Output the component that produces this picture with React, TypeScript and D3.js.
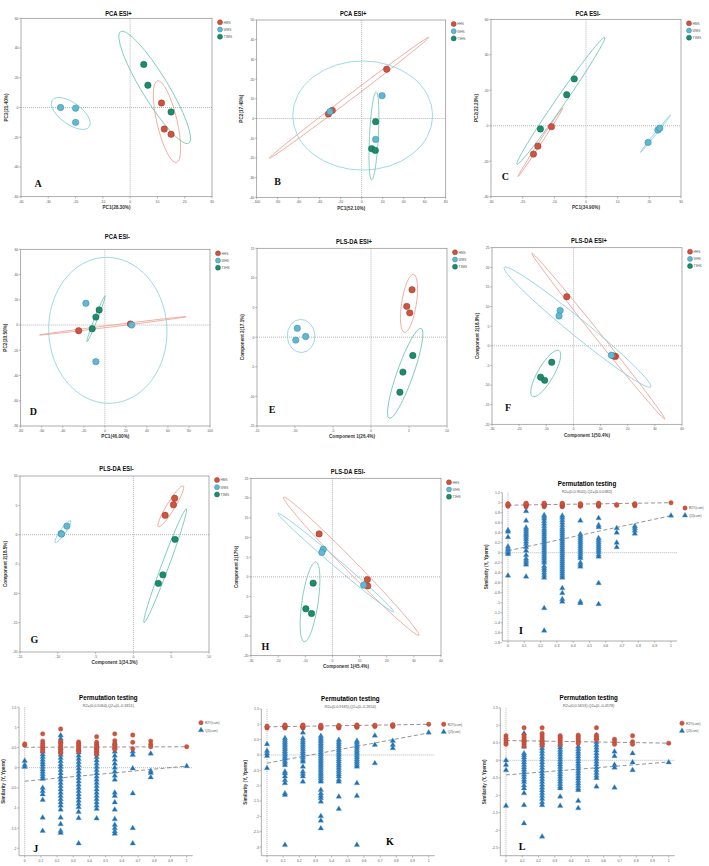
import * as d3 from "d3";

// group colours
const RED = "#cf543f", RED_EDGE = "#953626", RED_RING = "#efa194";
const BLUE = "#5fb9d4", BLUE_EDGE = "#37849c", BLUE_RING = "#86d0dc";
const GREEN = "#1c8c6d", GREEN_EDGE = "#0f5e48", GREEN_RING = "#6fc8b6";
const TRI = "#1f6fb0", TRI_EDGE = "#5d9fd2";

type Pt = [number, number];
// ellipse: major axis end points (x1, y1, x2, y2) + minor/major ratio
type Ring = [number, number, number, number, number];

// ---- A: PCA ESI+ ----
const aRed: Pt[] = [[11.5, 3], [12.5, -14.5], [15, -18]];
const aBlue: Pt[] = [[-25.5, 0], [-20, -0.5], [-20, -10]];
const aGreen: Pt[] = [[5, 29], [6.5, 15], [15, -3]];
const aRings: Ring[] = [[10, 18, 17, -37, 0.24], [-28.5, 5, -15, -13, 0.47], [-3.5, 51, 21.5, -24, 0.2]];
// ---- B: PCA ESI+ ----
const bRed: Pt[] = [[23.8, 25], [-31.7, 2.3], [-28, 4.1]];
const bBlue: Pt[] = [[-30.2, 3.5], [19.4, 11.6], [13.3, -10.6]];
const bGreen: Pt[] = [[13.3, -1.6], [9.5, -15.3], [13, -16.2]];
const bRings: Ring[] = [[-88, -20.2, 63.8, 41.2, 0.025], [-65.7, 1.5, 67.6, 1.5, 0.78], [13.8, 13.6, 9.5, -31.2, 0.1]];
// ---- C: PCA ESI- ----
const cRed: Pt[] = [[-16.6, -16], [-15.2, -11.5], [-10.9, -0.5]];
const cBlue: Pt[] = [[19.6, -9.4], [22.7, -2.4], [23.3, -1.4]];
const cGreen: Pt[] = [[-14.4, -1.8], [-6.1, 17.5], [-3.7, 26.4]];
const cRings: Ring[] = [[-21.5, -28.7, -7.3, 10.1, 0.03], [17.2, -15, 26.7, 6.1, 0.03], [-21.8, -21.7, 5.9, 49.8, 0.06]];
// ---- D: PCA ESI- ----
const dRed: Pt[] = [[-24.9, -4.5], [24.3, 0.8]];
const dBlue: Pt[] = [[-18, 17.2], [-8.5, -29], [25.5, 0]];
const dGreen: Pt[] = [[-12, -2.9], [-8.5, 6.3], [-5.4, 11.9]];
const dRings: Ring[] = [[-62, -7.9, 77.3, 6.6, 0.012], [0, 53.6, 5.7, -62, 0.81], [-17, -13.2, 0.3, 23.2, 0.06]];
// ---- E: PLS-DA ESI+ ----
const eRed: Pt[] = [[5.4, 8], [4.7, 5.2], [5.1, 4.1]];
const eBlue: Pt[] = [[-9.7, 1.5], [-9.9, -0.5], [-8.6, 0.1]];
const eGreen: Pt[] = [[5.5, -3.1], [4.2, -5.9], [3.8, -9.3]];
const eRings: Ring[] = [[5.6, 10.6, 4.4, 0.8, 0.25], [-9.3, 3.0, -9.1, -2.6, 0.83], [6.6, 1.5, 2.4, -13.7, 0.17]];
// ---- F: PLS-DA ESI+ ----
const fRed: Pt[] = [[-2.45, 12.5], [15.5, -2.7], [14.8, -2.6]];
const fBlue: Pt[] = [[-4.9, 9], [-5.3, 7.6], [14, -2.4]];
const fGreen: Pt[] = [[-8, -4.2], [-12.1, -8], [-10.6, -8.8]];
const fRings: Ring[] = [[-15.3, 23.6, 33.7, -18.7, 0.03], [-25.5, 20, 28.5, -10.5, 0.09], [-5.3, -1.2, -15.1, -12.9, 0.3]];
// ---- G: PLS-DA ESI- ----
const gRed: Pt[] = [[5.46, 6.2], [5.3, 5.1], [4.2, 3.3]];
const gBlue: Pt[] = [[-8.8, 1.46], [-9.56, 0.17], [-9.5, 0.1]];
const gGreen: Pt[] = [[5.5, -0.8], [3.9, -6.85], [3.3, -8.3]];
const gRings: Ring[] = [[6.6, 8.3, 3.3, 1.35, 0.17], [-8.3, 2.4, -10.35, -1.35, 0.2], [7, 4.4, 1.4, -15, 0.06]];
// ---- H: PLS-DA ESI- ----
const hRed: Pt[] = [[-4.9, 10.9], [12.85, -0.7], [13, -2.3]];
const hBlue: Pt[] = [[-3.4, 7], [-3.9, 6.2], [11.5, -2.1]];
const hGreen: Pt[] = [[-7.1, -1.6], [-9.8, -8.1], [-7.7, -9.3]];
const hRings: Ring[] = [[-18, 20.2, 31.8, -14.8, 0.06], [-20, 16.1, 22.6, -8.9, 0.05], [-6.1, 3.8, -10.4, -16.5, 0.2]];

const msNames = ["HMS", "WMS", "T3MS"];
const hsNames = ["HHS", "WHS", "T3HS"];

// ---- permutation tests: columns at these x positions ----
const permX = [0, 0.111, 0.222, 0.333, 0.444, 0.556, 0.667, 0.778, 1];
const permXTicks = [0, 0.1, 0.2, 0.3, 0.4, 0.5, 0.6, 0.7, 0.8, 0.9, 1];

const iR2 = [
  [0.93, 0.95, 0.96, 0.97, 0.98],
  [0.92, 0.94, 0.95, 0.96, 0.97, 0.98, 0.99],
  [0.92, 0.94, 0.95, 0.96, 0.97, 0.98, 0.99],
  [0.92, 0.93, 0.94, 0.95, 0.96, 0.97, 0.98, 0.99],
  [0.93, 0.94, 0.95, 0.96, 0.97, 0.98],
  [0.93, 0.95, 0.96, 0.97, 0.98, 0.99],
  [0.95, 0.96],
  [0.94, 0.96, 0.97, 0.98],
  [1.0],
];
const iQ2 = [
  [0.45, 0.42, 0.31, 0.12, 0.08, 0.05, 0.02, 0, -0.03, -0.46],
  [0.83, 0.64, 0.5, 0.46, 0.42, 0.38, 0.35, 0.31, 0.27, 0.22, 0.17, 0.11, 0.04, -0.05, -0.12, -0.16, -0.2, -0.24, -0.48],
  [0.75, 0.72, 0.68, 0.63, 0.58, 0.53, 0.48, 0.44, 0.4, 0.36, 0.32, 0.28, 0.24, 0.2, 0.16, 0.12, 0.08, 0.04, 0, -0.04, -0.08, -0.12, -0.16, -0.2, -0.27, -0.31, -0.35, -0.4, -0.45, -0.5, -1.11, -1.56],
  [0.74, 0.7, 0.65, 0.6, 0.55, 0.5, 0.46, 0.42, 0.38, 0.34, 0.3, 0.26, 0.22, 0.18, 0.14, 0.1, 0.06, 0.02, -0.02, -0.06, -0.1, -0.14, -0.18, -0.22, -0.26, -0.3, -0.34, -0.38, -0.42, -0.46, -0.5, -0.71, -0.81, -0.93, -0.98],
  [0.64, 0.37, 0.33, 0.29, 0.25, 0.21, 0.17, 0.13, 0.09, 0.05, 0.01, -0.03, -0.07, -0.11, -0.2, -0.24, -0.28, -0.98, -1.01],
  [0.69, 0.55, 0.51, 0.29, 0.25, 0.21, 0.17, 0.13, 0.09, 0.05, 0.01, -0.04, -0.08, -0.61, -1.03],
  [0.49, 0.4, 0.2, 0.11],
  [0.53, 0.49, 0.44, 0.38],
  [0.74],
];
const jR2 = [
  [0.56, 0.59],
  [0.84, 0.66, 0.6, 0.55, 0.5, 0.45, 0.41],
  [0.96, 0.65, 0.6, 0.55, 0.5, 0.46, 0.41, 0.36],
  [0.64, 0.6, 0.56, 0.52, 0.48, 0.44, 0.4],
  [0.77, 0.63, 0.58, 0.54, 0.5, 0.46, 0.42, 0.37, 0.33],
  [0.84, 0.67, 0.6, 0.55, 0.5, 0.45],
  [0.81, 0.63, 0.47],
  [0.66, 0.58, 0.52],
  [0.52],
];
const jQ2 = [
  [0.17, 0.07, 0.02],
  [0.4, 0.33, 0.27, 0.2, 0.14, 0.08, 0.02, -0.04, -0.1, -0.16, -0.22, -0.28, -0.5, -0.58, -0.66, -0.8, -1.24, -1.57],
  [0.8, 0.72, 0.65, 0.48, 0.4, 0.32, 0.24, 0.16, 0.08, 0.02, -0.06, -0.14, -0.22, -0.3, -0.38, -0.46, -0.54, -0.62, -0.7, -0.78, -0.86, -0.94, -1.04, -1.24, -1.4, -1.57, -1.62],
  [0.45, 0.38, 0.3, 0.22, 0.14, 0.06, -0.02, -0.1, -0.18, -0.26, -0.34, -0.42, -0.5, -0.58, -0.66, -0.74, -0.82, -0.9, -0.98, -1.1, -1.25, -1.88],
  [0.5, 0.42, 0.34, 0.26, 0.18, 0.1, 0.02, -0.06, -0.14, -0.22, -0.3, -0.38, -0.46, -0.54, -0.62, -0.7, -0.78, -0.86, -0.94, -1.02, -1.26],
  [0.6, 0.5, 0.4, 0.3, 0.2, 0.1, 0, -0.1, -0.2, -0.3, -0.62, -0.7, -0.86, -1.04, -1.28, -1.42, -1.5, -1.58, -1.64],
  [0.4, 0.32, -0.02, -0.64, -1.5, -1.88],
  [0.35, -0.08, -0.13, -0.24],
  [0.04],
];
const kR2 = [
  [0.88, 0.91, 0.94],
  [0.88, 0.9, 0.92, 0.94, 0.96, 0.98],
  [0.88, 0.9, 0.92, 0.94, 0.96, 0.98],
  [0.87, 0.89, 0.91, 0.93, 0.95, 0.97],
  [0.88, 0.9, 0.92, 0.94, 0.96],
  [0.9, 0.92, 0.94, 0.96, 0.98],
  [0.93, 0.95, 0.97],
  [0.93, 0.95, 0.97, 0.99],
  [1.0],
];
const kQ2 = [
  [0.35, 0.13, 0.05, -0.03, -0.43],
  [0.55, 0.48, 0.42, 0.36, 0.3, 0.24, 0.18, 0.12, 0.06, 0, -0.06, -0.12, -0.2, -0.26, -0.33, -0.54, -0.6, -0.7, -0.82, -0.92, -1.25, -1.3, -2.93],
  [0.73, 0.54, 0.47, 0.4, 0.33, 0.26, 0.19, 0.12, 0.05, -0.02, -0.09, -0.16, -0.22, -0.38, -0.54, -0.62, -0.7, -0.87],
  [0.62, 0.56, 0.5, 0.44, 0.38, 0.32, 0.26, 0.2, 0.14, 0.08, 0.02, -0.04, -0.1, -0.16, -0.22, -0.28, -0.34, -0.4, -0.46, -0.52, -0.58, -0.64, -0.7, -0.76, -0.82, -0.87, -1.14, -1.25, -1.33, -1.41, -1.52, -1.99, -2.14, -2.39],
  [0.49, 0.42, 0.35, 0.28, 0.21, 0.14, 0.07, 0, -0.07, -0.14, -0.21, -0.28, -0.35, -0.42, -0.49, -0.56, -0.63, -0.7, -0.8, -0.87, -1.36, -1.76],
  [0.46, 0.4, 0.34, 0.28, 0.22, 0.16, 0.1, 0.04, -0.02, -0.08, -0.14, -0.2, -0.26, -0.32, -0.38, -0.92, -1.33, -2.93],
  [0.63, 0.33, -0.27],
  [0.46, 0.33, 0.22],
  [0.73],
];
const lR2 = [
  [0.7, 0.63, 0.56, 0.5, 0.46],
  [0.93, 0.72, 0.66, 0.6, 0.55, 0.5, 0.45, 0.4],
  [0.93, 0.77, 0.7, 0.64, 0.58, 0.53, 0.48, 0.43],
  [0.7, 0.66, 0.61, 0.56, 0.51, 0.46],
  [0.72, 0.68, 0.63, 0.58, 0.53, 0.48],
  [0.93, 0.72, 0.64, 0.58],
  [0.6, 0.53, 0.46],
  [0.7, 0.53, 0.46],
  [0.49],
];
const lQ2 = [
  [0, -0.13, -0.28, -1.3],
  [0.77, 0.58, 0.39, 0.2, 0.15, 0.08, 0.01, -0.06, -0.13, -0.2, -0.27, -0.34, -0.41, -0.48, -0.55, -0.62, -0.72, -0.8, -0.94, -1.28, -1.8],
  [0.58, 0.5, 0.42, 0.34, 0.26, 0.18, 0.1, 0.02, -0.06, -0.14, -0.22, -0.3, -0.38, -0.46, -0.54, -0.62, -0.7, -0.78, -0.86, -0.94, -1.02, -1.1, -1.2, -1.28, -2.18],
  [0.44, 0.37, 0.3, 0.23, 0.16, 0.09, 0.02, -0.05, -0.12, -0.19, -0.26, -0.33, -0.4, -0.47, -0.54, -0.61, -0.68, -0.75, -0.8, -1.04, -1.3],
  [0.39, 0.32, 0.25, 0.18, 0.11, 0.04, -0.03, -0.1, -0.17, -0.24, -0.31, -0.38, -0.45, -0.52, -0.59, -0.66, -0.73, -0.8, -0.85, -1.16, -1.37],
  [0.72, 0.63, 0.52, 0.44, 0.36, 0.28, 0.2, 0.12, 0.04, -0.04, -0.12, -0.2, -0.28, -0.36, -0.44, -0.51, -0.75],
  [0.25, 0.12, -0.13, -0.21, -0.78],
  [0.2, -0.06, -0.28],
  [-0.06],
];

const SANS = "'Liberation Sans', Arial, sans-serif";
const SERIF = "'Liberation Serif', 'Times New Roman', serif";

function Txt({ x, y, s, size, bold = false, anchor = "start", sx = 1, rot = 0, fill = "#222", family = SANS }: any) {
  return (
    <text
      transform={`translate(${x},${y})${rot ? ` rotate(${rot})` : ""} scale(${sx},1)`}
      fontSize={size}
      fontWeight={bold ? "bold" : "normal"}
      textAnchor={anchor}
      fill={fill}
      fontFamily={family}
    >
      {s}
    </text>
  );
}

const fmt = (v: number) => String(v);

function Scatter({ p }: any) {
  const x = d3.scaleLinear().domain(p.xd).range([p.l, p.r]);
  const y = d3.scaleLinear().domain(p.yd).range([p.b, p.t]);
  const groups = [
    { pts: p.red, fill: RED, edge: RED_EDGE },
    { pts: p.blue, fill: BLUE, edge: BLUE_EDGE },
    { pts: p.green, fill: GREEN, edge: GREEN_EDGE },
  ];
  const ringColors = [RED_RING, BLUE_RING, GREEN_RING];
  const midX = (p.l + p.r) / 2;
  const midY = (p.t + p.b) / 2;
  return (
    <g>
      <rect x={p.l} y={p.t} width={p.r - p.l} height={p.b - p.t} fill="none" stroke="#8a8a8a" strokeWidth={0.7} />
      <line x1={x(0)} x2={x(0)} y1={p.t} y2={p.b} stroke="#999" strokeWidth={0.7} strokeDasharray="1 1" />
      <line x1={p.l} x2={p.r} y1={y(0)} y2={y(0)} stroke="#999" strokeWidth={0.7} strokeDasharray="1 1" />
      {p.xt.map((t: number) => (
        <g key={"x" + t}>
          <line x1={x(t)} x2={x(t)} y1={p.b} y2={p.b + 1.8} stroke="#777" strokeWidth={0.5} />
          <Txt x={x(t)} y={p.b + 5.8} s={fmt(t)} size={4.3} sx={0.8} anchor="middle" fill="#555" />
        </g>
      ))}
      {p.yt.map((t: number) => (
        <g key={"y" + t}>
          <line x1={p.l - 1.8} x2={p.l} y1={y(t)} y2={y(t)} stroke="#777" strokeWidth={0.5} />
          <Txt x={p.l - 2.5} y={y(t) + 1.4} s={fmt(t)} size={4.3} sx={0.8} anchor="end" fill="#555" />
        </g>
      ))}
      {p.rings.map((rg: Ring, i: number) => {
        const [x1, y1, x2, y2, k] = rg;
        const px1 = x(x1), py1 = y(y1), px2 = x(x2), py2 = y(y2);
        const cx = (px1 + px2) / 2, cy = (py1 + py2) / 2;
        const a = Math.hypot(px2 - px1, py2 - py1) / 2;
        const ang = (Math.atan2(py2 - py1, px2 - px1) * 180) / Math.PI;
        return (
          <ellipse key={"r" + i} cx={cx} cy={cy} rx={a} ry={Math.max(a * k, 0.8)}
            transform={`rotate(${ang} ${cx} ${cy})`} fill="none" stroke={ringColors[i]} strokeWidth={0.8} />
        );
      })}
      {groups.map((g, gi) =>
        g.pts.map((d: Pt, i: number) => (
          <circle key={gi + "-" + i} cx={x(d[0])} cy={y(d[1])} r={3.2} fill={g.fill} stroke={g.edge} strokeWidth={0.5} />
        ))
      )}
      {p.names.map((n: string, i: number) => (
        <g key={n}>
          <circle cx={p.r + 8} cy={p.t + 4 + i * 7.2} r={2.5} fill={groups[i].fill} stroke={groups[i].edge} strokeWidth={0.5} />
          <Txt x={p.r + 11.5} y={p.t + 5.3 + i * 7.2} s={n} size={3.8} sx={0.85} fill="#555" />
        </g>
      ))}
      <Txt x={midX + 2} y={p.ty} s={p.title} size={7.5} bold anchor="middle" sx={0.78} fill="#111" />
      <Txt x={midX} y={p.b + 12.3} s={p.xl} size={5.5} bold anchor="middle" sx={0.85} fill="#333" />
      <Txt x={p.l - 13.5} y={midY} s={p.yl} size={5.5} bold anchor="middle" sx={0.85} rot={-90} fill="#333" />
      <Txt x={p.lx} y={p.ly} s={p.letter} size={10} bold anchor="middle" family={SERIF} fill="#111" />
    </g>
  );
}

function Perm({ p }: any) {
  const x = d3.scaleLinear().domain([0, 1]).range([p.x0, p.x1]);
  const y = d3.scaleLinear().domain([0, 1]).range([p.y0, p.y0 - p.unit]);
  const tri = d3.symbol(d3.symbolTriangle, 13)() as string;
  const left = x(-0.035), right = x(1.037);
  const top = y(p.yTicks[0]);
  return (
    <g>
      <line x1={left} x2={left} y1={top} y2={p.bottom} stroke="#777" strokeWidth={0.6} />
      <line x1={left} x2={right} y1={p.bottom} y2={p.bottom} stroke="#777" strokeWidth={0.6} />
      <line x1={x(0)} x2={x(0)} y1={top} y2={p.bottom} stroke="#999" strokeWidth={0.7} strokeDasharray="1 1" />
      <line x1={left} x2={right} y1={y(0)} y2={y(0)} stroke="#999" strokeWidth={0.7} strokeDasharray="1 1" />
      {permXTicks.map((t) => (
        <g key={"x" + t}>
          <line x1={x(t)} x2={x(t)} y1={p.bottom} y2={p.bottom + 1.8} stroke="#777" strokeWidth={0.5} />
          <Txt x={x(t)} y={p.bottom + 6.2} s={fmt(t)} size={4.3} sx={0.8} anchor="middle" fill="#555" />
        </g>
      ))}
      {p.yTicks.map((t: number) => (
        <g key={"y" + t}>
          <line x1={left - 1.8} x2={left} y1={y(t)} y2={y(t)} stroke="#777" strokeWidth={0.5} />
          <Txt x={left - 2.5} y={y(t) + 1.4} s={fmt(t)} size={4.3} sx={0.8} anchor="end" fill="#555" />
        </g>
      ))}
      <line x1={x(0)} y1={y(p.r2Line[0])} x2={x(1)} y2={y(p.r2Line[1])} stroke="#777" strokeWidth={0.8} strokeDasharray="4 2.5" />
      <line x1={x(0)} y1={y(p.q2Line[0])} x2={x(1)} y2={y(p.q2Line[1])} stroke="#777" strokeWidth={0.8} strokeDasharray="4 2.5" />
      {p.q2.map((col: number[], ci: number) =>
        col.map((v, i) => (
          <path key={"q" + ci + "-" + i} d={tri} transform={`translate(${x(permX[ci])},${y(v)})`} fill={TRI} stroke={TRI_EDGE} strokeWidth={0.35} />
        ))
      )}
      {p.r2.map((col: number[], ci: number) =>
        col.map((v, i) => (
          <circle key={"r" + ci + "-" + i} cx={x(permX[ci])} cy={y(v)} r={2.2} fill={RED} stroke="#b34432" strokeWidth={0.4} />
        ))
      )}
      <circle cx={p.legX} cy={p.legY} r={2.2} fill={RED} stroke="#b34432" strokeWidth={0.4} />
      <Txt x={p.legX + 4} y={p.legY + 1.3} s="R2Y(cum)" size={3.8} sx={0.85} fill="#555" />
      <path d={tri} transform={`translate(${p.legX},${p.legY + 7.5})`} fill={TRI} stroke={TRI_EDGE} strokeWidth={0.35} />
      <Txt x={p.legX + 4} y={p.legY + 8.8} s="Q2(cum)" size={3.8} sx={0.85} fill="#555" />
      <Txt x={p.tx} y={p.ty + 3} s="Permutation testing" size={8} bold anchor="middle" sx={0.78} fill="#000" />
      <Txt x={p.tx} y={p.ty + 10} s={p.sub} size={3.8} anchor="middle" fill="#555" />
      <Txt x={left - 14} y={(top + p.bottom) / 2} s="Similarity (Y, Yperm)" size={5.5} bold anchor="middle" sx={0.85} rot={-90} fill="#333" />
      <Txt x={p.lx} y={p.ly} s={p.letter} size={10} bold anchor="middle" family={SERIF} fill="#000" />
    </g>
  );
}

const scatterPanels = [
  { title: "PCA ESI+", ty: 16, xl: "PC1(28.30%)", yl: "PC2(21.40%)", names: msNames, l: 21, r: 212, t: 18.3, b: 196.7,
    xd: [-40, 30], yd: [-60, 60], xt: [-40, -30, -20, -10, 0, 10, 20, 30], yt: [-60, -40, -20, 0, 20, 40, 60],
    red: aRed, blue: aBlue, green: aGreen, rings: aRings, letter: "A", lx: 38, ly: 186.5 },
  { title: "PCA ESI+", ty: 16, xl: "PC1(52.10%)", yl: "PC2(17.40%)", names: hsNames, l: 256.7, r: 445.7, t: 20, b: 197.3,
    xd: [-100, 80], yd: [-40, 50], xt: [-100, -80, -60, -40, -20, 0, 20, 40, 60, 80], yt: [-40, -30, -20, -10, 0, 10, 20, 30, 40, 50],
    red: bRed, blue: bBlue, green: bGreen, rings: bRings, letter: "B", lx: 277.7, ly: 184.5 },
  { title: "PCA ESI-", ty: 16, xl: "PC1(34.90%)", yl: "PC2(22.20%)", names: msNames, l: 491, r: 681, t: 19.3, b: 196.7,
    xd: [-30, 30], yd: [-40, 60], xt: [-30, -20, -10, 0, 10, 20, 30], yt: [-40, -20, 0, 20, 40, 60],
    red: cRed, blue: cBlue, green: cGreen, rings: cRings, letter: "C", lx: 505.3, ly: 180.2 },
  { title: "PCA ESI-", ty: 238.5, xl: "PC1(46.00%)", yl: "PC2(20.50%)", names: hsNames, l: 20.7, r: 210, t: 249.3, b: 426,
    xd: [-80, 100], yd: [-80, 60], xt: [-80, -60, -40, -20, 0, 20, 40, 60, 80, 100], yt: [-80, -60, -40, -20, 0, 20, 40, 60],
    red: dRed, blue: dBlue, green: dGreen, rings: dRings, letter: "D", lx: 33.3, ly: 415.2 },
  { title: "PLS-DA ESI+", ty: 244.3, xl: "Component 1(26.4%)", yl: "Component 2(17.1%)", names: msNames, l: 257, r: 447, t: 248.3, b: 426,
    xd: [-15, 10], yd: [-15, 15], xt: [-15, -10, -5, 0, 5, 10], yt: [-15, -10, -5, 0, 5, 10, 15],
    red: eRed, blue: eBlue, green: eGreen, rings: eRings, letter: "E", lx: 272, ly: 412.8 },
  { title: "PLS-DA ESI+", ty: 242.5, xl: "Component 1(50.4%)", yl: "Component 2(18.9%)", names: hsNames, l: 492, r: 682, t: 247.7, b: 424.3,
    xd: [-30, 40], yd: [-20, 25], xt: [-30, -20, -10, 0, 10, 20, 30, 40], yt: [-20, -15, -10, -5, 0, 5, 10, 15, 20, 25],
    red: fRed, blue: fBlue, green: fGreen, rings: fRings, letter: "F", lx: 508, ly: 411.2 },
  { title: "PLS-DA ESI-", ty: 470.5, xl: "Component 1(34.3%)", yl: "Component 2(18.5%)", names: msNames, l: 20, r: 209, t: 476, b: 652,
    xd: [-15, 10], yd: [-20, 10], xt: [-15, -10, -5, 0, 5, 10], yt: [-20, -15, -10, -5, 0, 5, 10],
    red: gRed, blue: gBlue, green: gGreen, rings: gRings, letter: "G", lx: 34.3, ly: 642.8 },
  { title: "PLS-DA ESI-", ty: 474.3, xl: "Component 1(45.4%)", yl: "Component 2(17%)", names: hsNames, l: 251, r: 441, t: 478.3, b: 655.7,
    xd: [-30, 40], yd: [-20, 25], xt: [-30, -20, -10, 0, 10, 20, 30, 40], yt: [-20, -15, -10, -5, 0, 5, 10, 15, 20, 25],
    red: hRed, blue: hBlue, green: hGreen, rings: hRings, letter: "H", lx: 265.3, ly: 650.2 },
];

const permPanels = [
  { x0: 508, x1: 671, y0: 552.7, unit: 50, bottom: 641, yTicks: [1.2, 1, 0.8, 0.6, 0.4, 0.2, 0, -0.2, -0.4, -0.6, -0.8, -1, -1.2, -1.4, -1.6, -1.8],
    r2: iR2, q2: iQ2, r2Line: [0.9501, 1.0], q2Line: [0.0382, 0.74], sub: "R2=(0,0.9501),Q2=(0,0.0382)",
    tx: 587, ty: 482.7, legX: 685, legY: 508, letter: "I", lx: 521, ly: 633.5 },
  { x0: 24.7, x1: 186.7, y0: 767.7, unit: 40.3, bottom: 855.7, yTicks: [1.5, 1, 0.5, 0, -0.5, -1, -1.5, -2],
    r2: jR2, q2: jQ2, r2Line: [0.5064, 0.52], q2Line: [-0.3351, 0.04], sub: "R2=(0,0.5064),Q2=(0,-0.3351)",
    tx: 108.3, ty: 696.7, legX: 201, legY: 722.7, letter: "J", lx: 35.7, ly: 851.8 },
  { x0: 267, x1: 428.7, y0: 755, unit: 30.7, bottom: 855.7, yTicks: [1.5, 1, 0.5, 0, -0.5, -1, -1.5, -2, -2.5, -3],
    r2: kR2, q2: kQ2, r2Line: [0.9185, 1.0], q2Line: [-0.2654, 0.72], sub: "R2=(0,0.9185),Q2=(0,-0.2654)",
    tx: 350.3, ty: 697.7, legX: 443.7, legY: 724.3, letter: "K", lx: 390, ly: 844.5 },
  { x0: 506, x1: 668.7, y0: 760.3, unit: 35, bottom: 855.7, yTicks: [1.5, 1, 0.5, 0, -0.5, -1, -1.5, -2, -2.5],
    r2: lR2, q2: lQ2, r2Line: [0.5653, 0.49], q2Line: [-0.4178, -0.05], sub: "R2=(0,0.5653),Q2=(0,-0.4178)",
    tx: 588.7, ty: 697.3, legX: 682, legY: 723.3, letter: "L", lx: 522, ly: 850.2 },
];

export default function App() {
  return (
    <>
      <style>{`body{margin:0;background:#fff}`}</style>
      <svg width={709} height={866} style={{ display: "block" }}>
        <rect width={709} height={866} fill="#fff" />
        {scatterPanels.map((p, i) => (
          <Scatter key={"s" + i} p={p} />
        ))}
        {permPanels.map((p, i) => (
          <Perm key={"p" + i} p={p} />
        ))}
      </svg>
    </>
  );
}
